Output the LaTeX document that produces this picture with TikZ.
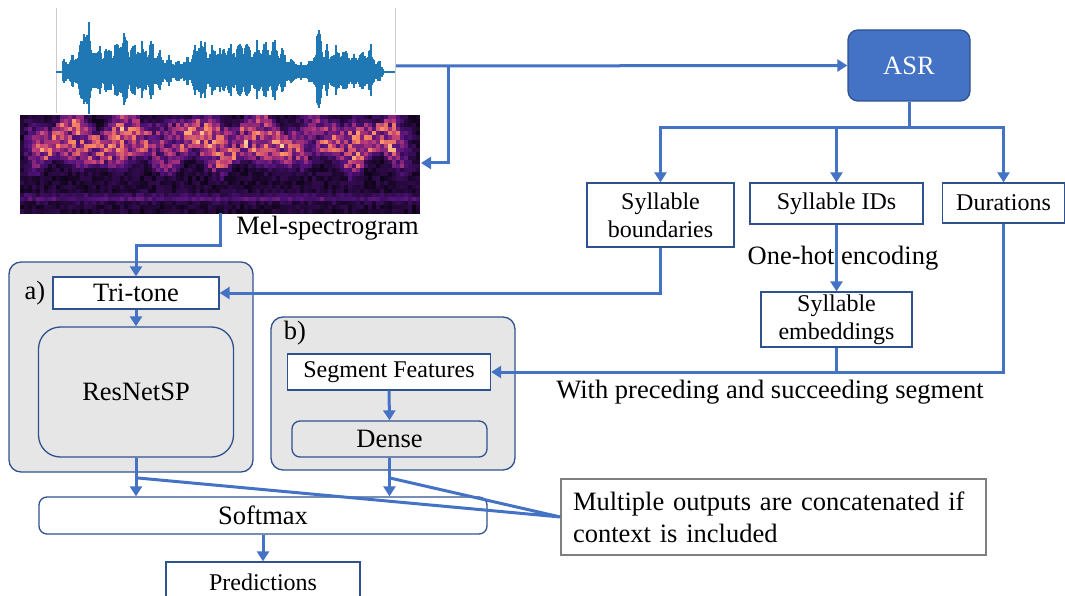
\documentclass[tikz,border=0pt]{standalone}
\usepackage{fontspec}
\setmainfont{Liberation Serif}
\usetikzlibrary{arrows.meta,positioning,calc}
\definecolor{flowblue}{RGB}{68,114,196}
\definecolor{edgeblue}{RGB}{47,82,143}
\definecolor{panelgray}{RGB}{231,230,230}
\definecolor{notegray}{RGB}{127,127,127}
\definecolor{wavecol}{RGB}{31,119,180}
\definecolor{mgA}{RGB}{0,0,4}
\definecolor{mgB}{RGB}{80,18,123}
\definecolor{mgC}{RGB}{183,55,121}
\definecolor{mgD}{RGB}{252,137,97}
\definecolor{mgE}{RGB}{252,253,191}

\begin{document}
\begin{tikzpicture}[x=1pt, y=-1pt,
  font=\fontsize{26.5}{32}\selectfont,
  flow/.style={draw=flowblue, line width=3pt, -{Triangle[width=12pt,length=10pt]}},
  wire/.style={draw=flowblue, line width=3pt},
  box/.style={draw=edgeblue, line width=1.3pt, fill=white, inner sep=0pt, align=center},
  panel/.style={draw=edgeblue, line width=1.3pt, fill=panelgray, rounded corners=12pt},
  small/.style={font=\fontsize{24}{28}\selectfont},
  lbl/.style={inner sep=0pt},
  declare function={
    bump(\x,\c,\w,\p)=exp(-min(abs((\x-\c)/\w),2)^\p);
    wenv(\x)=4+28*bump(\x,118,50,4)+26*bump(\x,240,52,4)+22*bump(\x,333,24,4)
      +16*bump(\x,368,12,4)+40*bump(\x,86,4,2)+20*bump(\x,124,4,2)
      +24*bump(\x,200,4.5,2)+8*bump(\x,248,4,2)+22*bump(\x,319,4,2)
      +10*bump(\x,368,4,2)+6*bump(\x,150,6,2)+6*bump(\x,275,8,2);
  }
]
\useasboundingbox (0,0) rectangle (1065,596);
\pgfmathsetseed{11}

% waveform
\draw[gray!40, line width=0.8pt] (56,8) -- (56,113) (395,8) -- (395,113);
\draw[wavecol, line width=1.2pt] (56,72) -- (395,72);
\foreach \i in {63,...,383}{
  \pgfmathsetmacro\amp{wenv(\i)*(0.55+0.45*rnd)*(0.8+0.2*sin(\i*41))}
  \draw[wavecol, line width=1.4pt] (\i,72-\amp) -- (\i,72+0.85*\amp);
}

% mel-spectrogram
\foreach \c in {0,...,99}{
  \pgfmathsetmacro\en{min(1,\c/3,(99-\c)/4)*(0.4+0.6*min(1,(wenv(56+(\c*4+2)*0.8475)-4)/20))}
  \pgfmathsetmacro\mid{0.27+0.07*sin(\c*23)}
  \pgfmathsetmacro\spread{0.24+0.06*sin(\c*31+40)}
  \foreach \r in {0,...,23}{
    \pgfmathsetmacro\iv{min(1,0.06+0.16*rnd+\en*(0.2+0.55*rnd)*exp(-min(abs((\r/23-\mid)/\spread),2)^4)
      +0.22*exp(-min(abs((\r/23-0.86)/0.04),3)^2))}
    \ifdim\iv pt<0.35pt
      \pgfmathtruncatemacro\pc{\iv/0.35*100}\colorlet{cell}{mgB!\pc!mgA}
    \else\ifdim\iv pt<0.6pt
      \pgfmathtruncatemacro\pc{(\iv-0.35)/0.25*100}\colorlet{cell}{mgC!\pc!mgB}
    \else\ifdim\iv pt<0.82pt
      \pgfmathtruncatemacro\pc{(\iv-0.6)/0.22*100}\colorlet{cell}{mgD!\pc!mgC}
    \else
      \pgfmathtruncatemacro\pc{(\iv-0.82)/0.18*100}\colorlet{cell}{mgE!\pc!mgD}
    \fi\fi\fi
    \fill[cell] (20+\c*4,115+\r*4.1) rectangle ++(4.3,4.4);
  }
}
\coordinate (wavout) at (396,66);
\coordinate (wavjoin) at (448,66);
\coordinate (specin) at (421,163);
\coordinate (specout) at (220,213);
\node[lbl, anchor=east] (mellbl) at (419,228) {Mel-spectrogram};

% ASR and its outputs
\node[box, fill=flowblue, text=white, rounded corners=10pt,
  minimum width=122pt, minimum height=71pt] (asr) at (909,65.5) {ASR};
\coordinate (asrbus) at (909,128);
\node[box, small, minimum width=147pt, minimum height=64pt] (sb) at (660.5,215) {Syllable\\boundaries};
\node[box, small, minimum width=173pt, minimum height=41pt] (sid) at (836.5,203.5) {Syllable IDs};
\node[box, small, minimum width=122pt, minimum height=40pt] (dur) at (1003.5,203) {Durations};
\node[lbl] (onehot) at (843,258) {One-hot encoding};
\node[box, small, minimum width=151pt, minimum height=55pt] (emb) at (836.5,319.5) {Syllable\\embeddings};
\node[lbl] (ctxlbl) at (770,392) {With preceding and succeeding segment};

% a) and b)
\node[panel, minimum width=244pt, minimum height=210pt] (pana) at (131,367) {};
\node[lbl] (tagA) at (35,293) {a)};
\node[box, minimum width=166pt, minimum height=32pt] (tri) at (136,293) {Tri-tone};
\node[box, fill=panelgray, rounded corners=22pt, minimum width=195pt, minimum height=130pt] (res) at (136,392) {ResNetSP};
\node[panel, minimum width=244pt, minimum height=153pt] (panb) at (393,393.5) {};
\node[lbl] (tagB) at (295,333) {b)};
\node[box, small, minimum width=203pt, minimum height=36pt] (seg) at (389,372) {Segment Features};
\node[box, fill=panelgray, rounded corners=8pt, minimum width=195pt, minimum height=36pt] (dense) at (389.5,439) {Dense};
\node[box, rounded corners=8pt, minimum width=448pt, minimum height=37pt] (soft) at (263,515.5) {Softmax};
\node[box, small, minimum width=194pt, minimum height=40pt] (pred) at (263,582) {Predictions};
\node[box, draw=notegray, align=left, text width=401pt, inner xsep=12pt,
  minimum height=76pt] (note) at (773.5,517) {Multiple outputs are concatenated if\\context is included};

% connectors
\draw[flow] (wavout) -- (asr.west);
\draw[flow] (wavjoin) |- (specin);
\draw[wire] (asr.south) -- (asrbus);
\foreach \t in {sb,sid,dur}
  \draw[flow] (asrbus) -| (\t.north);
\draw[flow] (sid.south) -- (emb.north);
\draw[flow] (sb.south) |- (tri.east);
\draw[flow] (specout) -- ++(0,32) -| (tri.north);
\draw[flow] (tri.south) -- (res.north);
\draw[flow] (dur.south) |- (seg.east);
\draw[wire] (emb.south) -- (emb.south |- seg.east);
\draw[flow] (seg.south) -- (dense.north);
\draw[flow] (res.south) -- (res.south |- soft.north);
\draw[flow] (dense.south) -- (dense.south |- soft.north);
\draw[flow] (soft.south) -- (pred.north);
\coordinate (tapa) at (138,478);
\coordinate (tapb) at (390,478);
\draw[wire] (tapa) -- (note.west) (tapb) -- (note.west);
\end{tikzpicture}
\end{document}
